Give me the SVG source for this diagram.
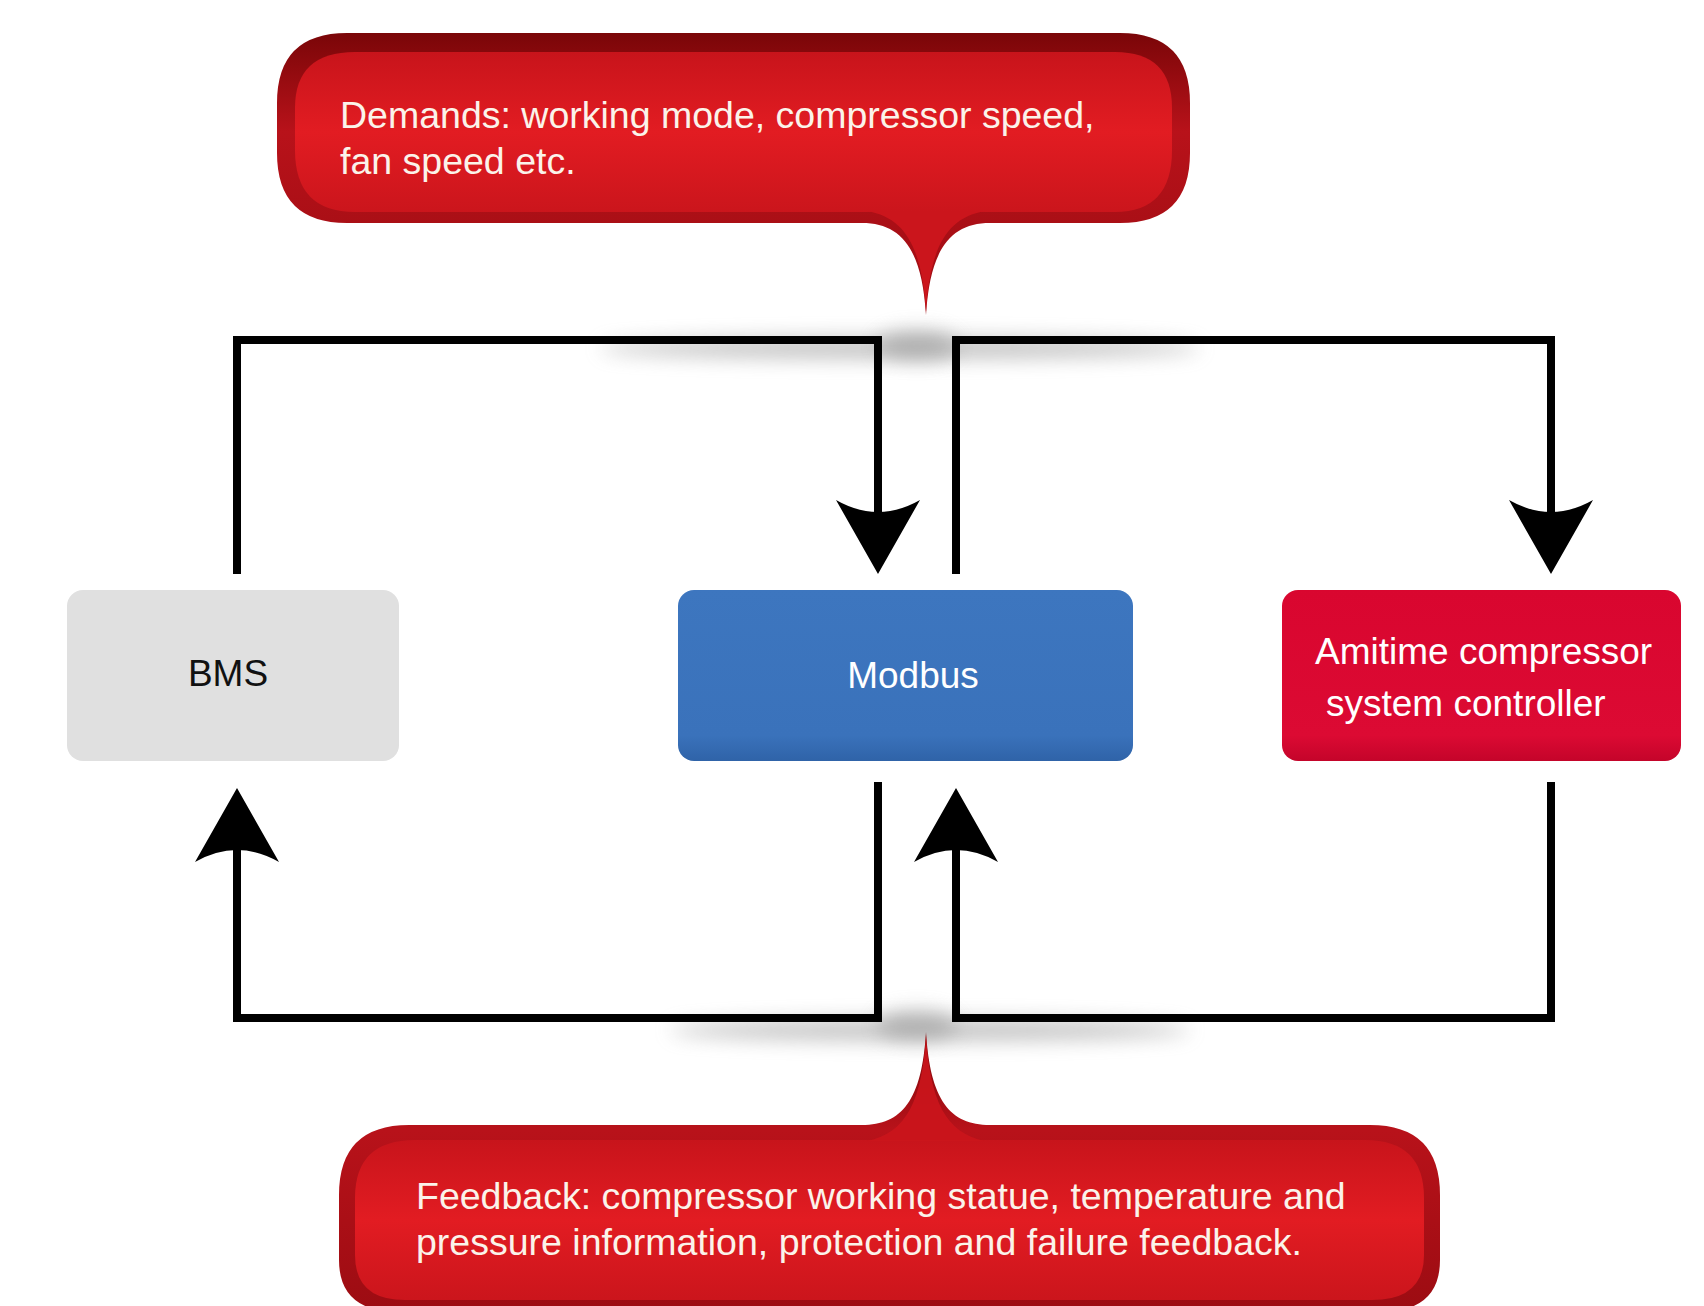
<svg xmlns="http://www.w3.org/2000/svg" width="1704" height="1306" viewBox="0 0 1704 1306">
<style>
.bt{font-family:"Liberation Sans",Arial,sans-serif;font-size:37.5px;fill:#fbf3ea}
.nt{font-family:"Liberation Sans",Arial,sans-serif;font-size:37px}
.ln{fill:none;stroke:#000;stroke-width:8;stroke-linejoin:miter;stroke-linecap:square}
.tail{fill:#cb151c}
</style>
<defs>
<linearGradient id="rimG" x1="0" y1="0" x2="0" y2="1">
<stop offset="0" stop-color="#7a0608"/>
<stop offset="0.35" stop-color="#b8121a"/>
<stop offset="1" stop-color="#9c0c12"/>
</linearGradient>
<linearGradient id="inG" x1="0" y1="0" x2="0" y2="1">
<stop offset="0" stop-color="#c8141b"/>
<stop offset="0.5" stop-color="#e21c22"/>
<stop offset="1" stop-color="#cb151c"/>
</linearGradient>
<linearGradient id="blueG" x1="0" y1="0" x2="0" y2="1">
<stop offset="0" stop-color="#3d76bf"/>
<stop offset="0.85" stop-color="#3a72bb"/>
<stop offset="1" stop-color="#2f63a8"/>
</linearGradient>
<linearGradient id="redG" x1="0" y1="0" x2="0" y2="1">
<stop offset="0" stop-color="#d9062f"/>
<stop offset="0.85" stop-color="#dc0a33"/>
<stop offset="1" stop-color="#c4042a"/>
</linearGradient>
<filter id="blur" x="-20%" y="-200%" width="140%" height="500%">
<feGaussianBlur stdDeviation="10"/>
</filter>
<path id="arrowDown" d="M0,0 L-42,-74 Q0,-50 42,-74 Z" fill="#000"/>
</defs>
<rect width="1704" height="1306" fill="#fff"/>

<g id="shadows">
<ellipse cx="900" cy="348" rx="300" ry="10" fill="#8a8a8a" opacity="0.55" filter="url(#blur)"/>
<ellipse cx="917" cy="345" rx="40" ry="14" fill="#9a9a9a" opacity="0.6" filter="url(#blur)"/>
<ellipse cx="930" cy="1030" rx="260" ry="10" fill="#8a8a8a" opacity="0.55" filter="url(#blur)"/>
<ellipse cx="917" cy="1025" rx="40" ry="14" fill="#9a9a9a" opacity="0.6" filter="url(#blur)"/>
</g>

<g id="demands">
<path d="M347,33 H1120 Q1190,33 1190,103 V153 Q1190,223 1120,223 H990 C950,223 930,250 926,315 C922,250 902,223 862,223 H347 Q277,223 277,153 V103 Q277,33 347,33 Z" fill="url(#rimG)"/>
<path d="M355,52 H1115 Q1172,52 1172,108 V150 Q1172,212 1115,212 H355 Q295,212 295,150 V108 Q295,52 355,52 Z" fill="url(#inG)"/>
<path class="tail" d="M985,211 C945,218 930,250 926,312 C922,250 907,218 867,211 Z"/>
<text class="bt" x="340" y="128">Demands: working mode, compressor speed,</text>
<text class="bt" x="340" y="174">fan speed etc.</text>
</g>

<g id="feedback">
<path d="M409,1125 H862 C902,1125 922,1100 926,1032 C930,1100 950,1125 990,1125 H1370 Q1440,1125 1440,1195 V1260 Q1440,1312 1380,1312 H399 Q339,1312 339,1260 V1195 Q339,1125 409,1125 Z" fill="url(#rimG)"/>
<path d="M415,1140 H1365 Q1424,1140 1424,1198 V1255 Q1424,1300 1372,1300 H405 Q355,1300 355,1255 V1198 Q355,1140 415,1140 Z" fill="url(#inG)"/>
<path class="tail" d="M867,1141 C907,1133 922,1100 926,1035 C930,1100 945,1133 985,1141 Z" fill-opacity="0.9"/>
<text class="bt" x="416" y="1209">Feedback: compressor working statue, temperature and</text>
<text class="bt" x="416" y="1255">pressure information, protection and failure feedback.</text>
</g>

<g id="connectors">
<path class="ln" d="M237,570 V340 H878 V540"/>
<use href="#arrowDown" x="878" y="574"/>
<path class="ln" d="M956,570 V340 H1551 V540"/>
<use href="#arrowDown" x="1551" y="574"/>
<path class="ln" d="M878,786 V1018 H237 V830"/>
<use href="#arrowDown" transform="translate(237,788) rotate(180)"/>
<path class="ln" d="M1551,786 V1018 H956 V830"/>
<use href="#arrowDown" transform="translate(956,788) rotate(180)"/>
</g>

<g id="bms">
<rect x="67" y="590" width="332" height="171" rx="16" fill="#e0e0e0"/>
<text class="nt" x="228" y="686" text-anchor="middle" fill="#111">BMS</text>
</g>

<g id="modbus">
<rect x="678" y="590" width="455" height="171" rx="16" fill="url(#blueG)"/>
<text class="nt" x="913" y="688" text-anchor="middle" fill="#fff">Modbus</text>
</g>

<g id="controller">
<rect x="1282" y="590" width="399" height="171" rx="16" fill="url(#redG)"/>
<text class="nt" x="1315" y="664" fill="#fff">Amitime compressor</text>
<text class="nt" x="1326" y="716" fill="#fff">system controller</text>
</g>
</svg>
